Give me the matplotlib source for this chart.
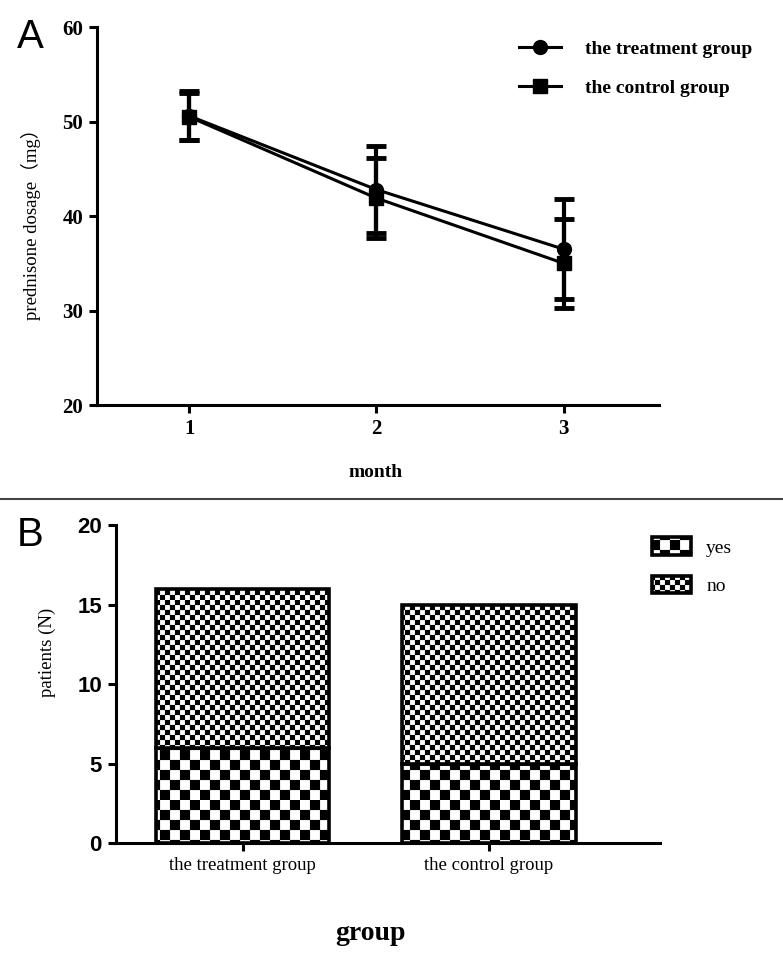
import numpy as np
import matplotlib.pyplot as plt
import matplotlib.hatch as mhatch
from matplotlib.path import Path
from matplotlib.lines import Line2D

# Dados - painel A
months = [1, 2, 3]
treat_mean = [50.6, 42.8, 36.5]
treat_sd = [2.6, 4.6, 5.3]
ctrl_mean = [50.5, 41.9, 35.0]
ctrl_sd = [2.5, 4.2, 4.7]

# Dados - painel B
groups = ['the treatment group', 'the control group']
yes_counts = [6, 5]
no_counts = [10, 10]


# hachura xadrez (matplotlib nao tem uma pronta)
class Checker(mhatch.HatchPatternBase):
    filled = True

    def __init__(self, hatch, density):
        self.n = 2 * len(hatch) if hatch else 0
        self.num_vertices = (self.n * self.n // 2) * 5

    def set_vertices_and_codes(self, vertices, codes):
        s = 1.0 / self.n
        k = 0
        for i in range(self.n):
            for j in range(self.n):
                if (i + j) % 2:
                    continue
                x0, y0 = i * s, j * s
                vertices[k:k + 5] = [(x0, y0), (x0 + s, y0), (x0 + s, y0 + s),
                                     (x0, y0 + s), (x0, y0)]
                codes[k:k + 5] = [Path.MOVETO, Path.LINETO, Path.LINETO,
                                  Path.LINETO, Path.CLOSEPOLY]
                k += 5


mhatch._hatch_types = [Checker]
plt.rcParams['hatch.linewidth'] = 0.1

serif = ['Liberation Serif', 'Noto Sans CJK SC']
plt.rcParams['font.family'] = serif

fig = plt.figure(figsize=(7.83, 9.66), dpi=100)

# ---------- painel A ----------
axA = fig.add_axes([0.124, 0.5807, 0.8416 - 0.124, 0.972 - 0.5807])
hT = axA.errorbar(months, treat_mean, yerr=treat_sd, fmt='-o', color='black', lw=2.2,
                  ms=10, elinewidth=3, capsize=7, capthick=3.5)
hC = axA.errorbar(months, ctrl_mean, yerr=ctrl_sd, fmt='-s', color='black', lw=2.2,
                  ms=10, elinewidth=3, capsize=7, capthick=3.5)
axA.set_xlim(0.508, 3.51)
axA.set_ylim(20, 60)
axA.set_xticks(months)
axA.set_yticks([20, 30, 40, 50, 60])
for s in ['top', 'right']:
    axA.spines[s].set_visible(False)
for s in ['left', 'bottom']:
    axA.spines[s].set_linewidth(2.2)
axA.tick_params(width=2.2, length=6, pad=4, labelsize=15)
for t in axA.get_xticklabels() + axA.get_yticklabels():
    t.set_fontweight('bold')
axA.set_xlabel('month', fontsize=14, fontweight='bold')
axA.xaxis.set_label_coords(0.496, -0.155)
axA.set_ylabel('prednisone dosage（mg）', fontsize=13.5)
axA.yaxis.set_label_coords(-0.10, 0.49)
axA.legend([hT[0], hC[0]], ['the treatment group', 'the control group'],
           loc='upper left', bbox_to_anchor=(0.64, 0.976), bbox_transform=fig.transFigure,
           frameon=False, prop={'family': serif, 'weight': 'bold', 'size': 14},
           handlelength=2.2, handletextpad=1.2, labelspacing=1.1)

# ---------- painel B ----------
axB = fig.add_axes([0.148, 0.1273, 0.843 - 0.148, 0.4565 - 0.1273])
x = np.arange(len(groups))
axB.bar(x, yes_counts, width=0.703, color='white', edgecolor='black', lw=2.6,
        hatch='xxxxx', label='yes')
axB.bar(x, no_counts, bottom=yes_counts, width=0.703, color='white', edgecolor='black',
        lw=2.6, hatch='xxxxxxxxxx', label='no')
axB.set_xlim(-0.516, 1.695)
axB.set_ylim(0, 20)
axB.set_xticks(x)
axB.set_xticklabels(groups, fontsize=13.5)
axB.set_yticks([0, 5, 10, 15, 20])
for s in ['top', 'right']:
    axB.spines[s].set_visible(False)
for s in ['left', 'bottom']:
    axB.spines[s].set_linewidth(2.2)
axB.tick_params(width=2.2, length=6, pad=4)
for t in axB.get_yticklabels():
    t.set_fontfamily('Liberation Sans')
    t.set_fontweight('bold')
    t.set_fontsize(16)
axB.set_xlabel('group', fontsize=20, fontweight='bold')
axB.xaxis.set_label_coords(0.467, -0.245)
axB.set_ylabel('patients (N)', fontsize=13.5)
axB.yaxis.set_label_coords(-0.11, 0.60)
axB.legend(loc='upper left', bbox_to_anchor=(0.81, 0.462), bbox_transform=fig.transFigure,
           frameon=False, prop={'family': serif, 'size': 14},
           handlelength=2.0, handleheight=1.0, handletextpad=0.8, labelspacing=1.0)

# rotulos e separador
fig.text(0.022, 0.950, 'A', fontsize=29, family='Liberation Sans')
fig.text(0.022, 0.4348, 'B', fontsize=29, family='Liberation Sans')
fig.add_artist(Line2D([0, 1], [0.4834, 0.4834], transform=fig.transFigure,
                      color='#444444', lw=1.5))

fig.savefig('out.png', dpi=100)
